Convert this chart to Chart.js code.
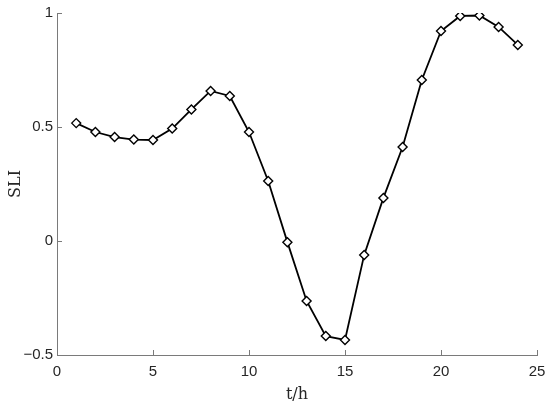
<!DOCTYPE html>
<html>
<head>
<meta charset="utf-8">
<script src="https://cdn.jsdelivr.net/npm/chart.js@4/dist/chart.umd.min.js"></script>
<style>
html,body{margin:0;padding:0;background:#fff;}
#wrap{width:550px;height:407px;position:relative;}
</style>
</head>
<body>
<div id="wrap"><canvas id="c" width="550" height="407"></canvas></div>
<script>
const hours = [1,2,3,4,5,6,7,8,9,10,11,12,13,14,15,16,17,18,19,20,21,22,23,24];
const sli = [0.517,0.478,0.456,0.445,0.443,0.493,0.577,0.658,0.636,0.478,0.263,-0.005,-0.263,-0.417,-0.434,-0.061,0.189,0.412,0.706,0.921,0.987,0.989,0.939,0.860];
const xTicks = [0,5,10,15,20,25];
const yTicks = [-0.5,0,0.5,1];
const xLabel = 't/h';
const yLabel = 'SLI';

const axisColor = '#7a7a7a';
const tickColor = '#262626';

const inwardTicks = {
  id: 'inwardTicks',
  afterDraw(chart) {
    const {ctx, chartArea, scales} = chart;
    ctx.save();
    ctx.strokeStyle = axisColor;
    ctx.lineWidth = 1;
    ctx.beginPath();
    xTicks.forEach(v => {
      const px = Math.round(scales.x.getPixelForValue(v)) + 0.5;
      ctx.moveTo(px, chartArea.bottom);
      ctx.lineTo(px, chartArea.bottom - 5);
    });
    yTicks.forEach(v => {
      const py = Math.round(scales.y.getPixelForValue(v)) + 0.5;
      ctx.moveTo(chartArea.left, py);
      ctx.lineTo(chartArea.left + 5, py);
    });
    ctx.stroke();
    ctx.restore();
  }
};

new Chart(document.getElementById('c'), {
  type: 'line',
  data: {
    datasets: [{
      data: hours.map((h, i) => ({x: h, y: sli[i]})),
      borderColor: '#000',
      borderWidth: 1.8,
      pointStyle: 'rectRot',
      pointRadius: 4.5,
      pointBorderWidth: 1.4,
      pointBackgroundColor: '#fff',
      pointBorderColor: '#000',
      tension: 0,
      fill: false
    }]
  },
  options: {
    responsive: false,
    animation: false,
    devicePixelRatio: 1,
    layout: {padding: {top: 13, right: 13, left: 0, bottom: 0}},
    plugins: {legend: {display: false}, tooltip: {enabled: false}},
    scales: {
      x: {
        type: 'linear',
        min: 0, max: 25,
        afterBuildTicks(s) { s.ticks = xTicks.map(v => ({value: v})); },
        afterFit(s) { s.height = 52; s.paddingLeft = 0; s.paddingRight = 0; },
        grid: {display: false, drawTicks: false},
        border: {display: true, color: axisColor, width: 1},
        ticks: {
          color: tickColor,
          font: {family: '"Liberation Sans", Arial, sans-serif', size: 15},
          padding: 8,
          maxRotation: 0,
          autoSkip: false
        },
        title: {
          display: true,
          text: xLabel,
          color: tickColor,
          font: {family: '"DejaVu Serif", serif', size: 16},
          padding: {top: 0, bottom: 3}
        }
      },
      y: {
        min: -0.5, max: 1,
        afterBuildTicks(s) { s.ticks = yTicks.map(v => ({value: v})); },
        afterFit(s) { s.width = 57; s.paddingTop = 0; s.paddingBottom = 0; },
        grid: {display: false, drawTicks: false},
        border: {display: true, color: axisColor, width: 1},
        ticks: {
          color: tickColor,
          font: {family: '"Liberation Sans", Arial, sans-serif', size: 15},
          padding: 4,
          autoSkip: false,
          callback: v => String(v).replace('-', '\u2212')
        },
        title: {
          display: true,
          text: yLabel,
          color: tickColor,
          font: {family: '"DejaVu Serif", serif', size: 16},
          padding: {top: 6, bottom: 0}
        }
      }
    }
  },
  plugins: [inwardTicks]
});
</script>
</body>
</html>
